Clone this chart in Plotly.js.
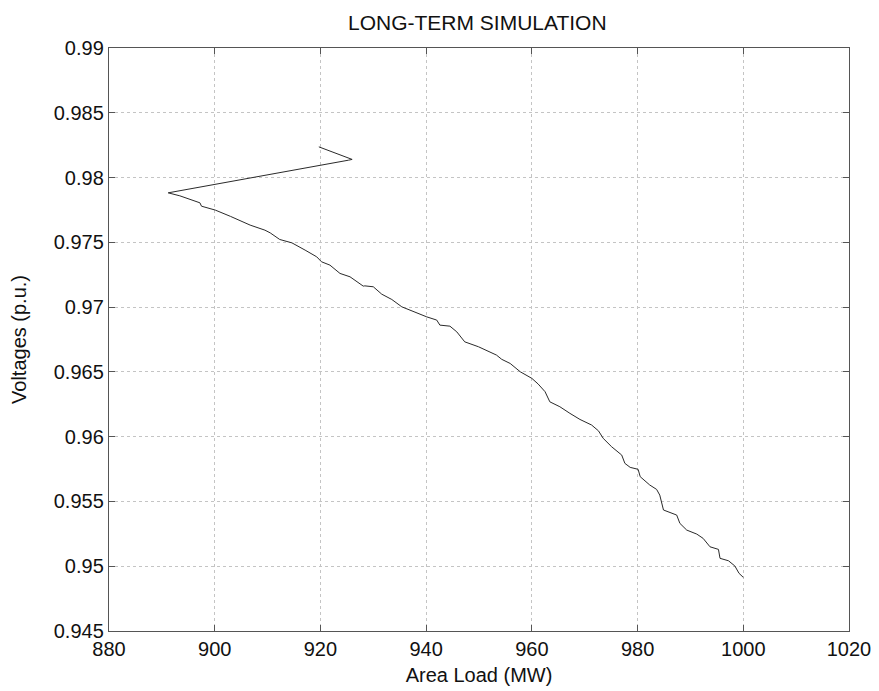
<!DOCTYPE html>
<html>
<head>
<meta charset="utf-8">
<script src="https://cdn.plot.ly/plotly-3.0.1.min.js"></script>
<style>html,body{margin:0;padding:0;background:#fff;}#chart{width:879px;height:691px;}</style>
</head>
<body>
<div id="chart"></div>
<script>
const areaLoad = [919.7, 926.0, 925.3, 891.2, 893.4, 897.2, 897.5, 900.1, 903.0, 906.7, 909.5, 910.5, 912.3, 914.6, 917.1, 919.3, 920.2, 921.8, 923.7, 925.6, 928.1, 928.4, 930.0, 931.6, 933.5, 935.4, 940.1, 942.0, 942.6, 944.5, 945.8, 947.3, 949.9, 951.8, 953.3, 954.3, 955.9, 957.8, 960.0, 961.2, 962.5, 963.4, 965.3, 967.2, 969.1, 971.3, 972.6, 973.5, 975.1, 977.0, 977.6, 978.6, 980.1, 980.5, 982.3, 983.6, 984.2, 984.9, 987.4, 988.0, 989.3, 991.2, 992.4, 993.7, 995.3, 995.6, 997.2, 998.4, 999.2, 1000.0];
const voltage = [0.98237, 0.98140, 0.98134, 0.97882, 0.97859, 0.97805, 0.97779, 0.97749, 0.97700, 0.97633, 0.97594, 0.97573, 0.97522, 0.97496, 0.97440, 0.97388, 0.97350, 0.97324, 0.97260, 0.97234, 0.97162, 0.97164, 0.97157, 0.97100, 0.97059, 0.97002, 0.96925, 0.96900, 0.96861, 0.96853, 0.96809, 0.96732, 0.96694, 0.96655, 0.96630, 0.96597, 0.96565, 0.96501, 0.96450, 0.96406, 0.96347, 0.96269, 0.96231, 0.96180, 0.96133, 0.96090, 0.96045, 0.95987, 0.95922, 0.95858, 0.95794, 0.95763, 0.95748, 0.95691, 0.95627, 0.95593, 0.95549, 0.95434, 0.95395, 0.95331, 0.95279, 0.95248, 0.95215, 0.95150, 0.95130, 0.95061, 0.95042, 0.95002, 0.94945, 0.94914];
const xTicks = [880, 900, 920, 940, 960, 980, 1000, 1020];
const xTickText = ["880", "900", "920", "940", "960", "980", "1000", "1020"];
const yTicks = [0.945, 0.95, 0.955, 0.96, 0.965, 0.97, 0.975, 0.98, 0.985, 0.99];
const yTickText = ["0.945", "0.95", "0.955", "0.96", "0.965", "0.97", "0.975", "0.98", "0.985", "0.99"];

const font = {family: "Liberation Sans, Arial, sans-serif", color: "#111"};
const trace = {
  x: areaLoad, y: voltage, type: "scatter", mode: "lines",
  line: {color: "#2a2a2a", width: 1}, hoverinfo: "skip"
};
const axisCommon = {
  showline: true, linecolor: "#555", linewidth: 1.2, mirror: "ticks",
  ticks: "inside", ticklen: 6, tickcolor: "#555",
  showgrid: true, gridcolor: "#c4c4c4", griddash: "dot", gridwidth: 1,
  zeroline: false, tickfont: Object.assign({size: 20}, font)
};
const layout = {
  width: 879, height: 691,
  margin: {l: 109, r: 30, t: 48, b: 60},
  paper_bgcolor: "#fff", plot_bgcolor: "#fff",
  showlegend: false,
  title: {text: "LONG-TERM SIMULATION", font: Object.assign({size: 21}, font), x: 0.543, xanchor: "center", y: 0.967, yanchor: "middle"},
  xaxis: Object.assign({}, axisCommon, {
    range: [880, 1020], tickvals: xTicks, ticktext: xTickText,
    title: {text: "Area Load (MW)", font: Object.assign({size: 20}, font), standoff: 8}
  }),
  yaxis: Object.assign({}, axisCommon, {
    range: [0.945, 0.99], tickvals: yTicks, ticktext: yTickText,
    title: {text: "Voltages (p.u.)", font: Object.assign({size: 20}, font), standoff: 21}
  })
};
Plotly.newPlot("chart", [trace], layout, {staticPlot: true, displayModeBar: false});
</script>
</body>
</html>
